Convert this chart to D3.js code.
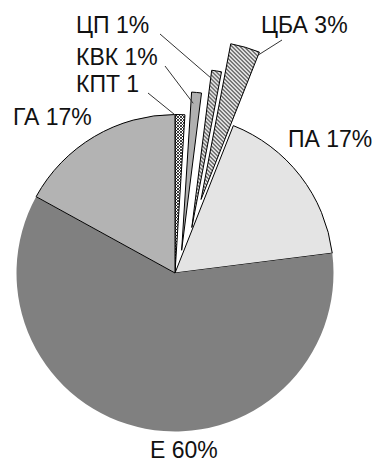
<!DOCTYPE html>
<html>
<head>
<meta charset="utf-8">
<script src="https://cdn.jsdelivr.net/npm/d3@7"></script>
<style>
  html, body { margin: 0; padding: 0; background: #fff; }
  svg { display: block; font-family: "Liberation Sans", Arial, sans-serif; }
</style>
</head>
<body>
<svg id="chart" width="377" height="462"></svg>
<script>
// Share of each category, percent, clockwise from 12 o'clock
const categories = ["КПТ", "КВК", "ЦП", "ЦБА", "ПА", "Е", "ГА"];
const shares     = [1, 1, 1, 3, 17, 60, 17];
const labelTexts = ["КПТ 1", "КВК 1%", "ЦП 1%", "ЦБА 3%", "ПА 17%", "Е 60%", "ГА 17%"];

// Appearance of each slice; pulled-out slices move `explode` px towards `dir` degrees
const sliceStyle = {
  "КПТ": { fill: "url(#cross)", stroke: "#000", explode: 0 },
  "КВК": { fill: "#b0b0b0",     stroke: "#000", explode: 23.7, dir: 16.3 },
  "ЦП":  { fill: "url(#diag)",  stroke: "#000", explode: 48.5, dir: 20.3 },
  "ЦБА": { fill: "url(#diag)",  stroke: "#000", explode: 78,   dir: 19.5 },
  "ПА":  { fill: "#e4e4e4",     stroke: "#000", explode: 0 },
  "Е":   { fill: "#808080",     stroke: "none", explode: 0 },
  "ГА":  { fill: "#b3b3b3",     stroke: "#000", explode: 0 }
};

// Label placement: text start and baseline, leader start, leader target on slice
const labelLayout = {
  "КПТ": { x: 76,  y: 92,  lx: 148, ly: 93, t: 0.15, k: 0.99 },
  "КВК": { x: 76,  y: 65,  lx: 165, ly: 66, t: 0.25, k: 0.93 },
  "ЦП":  { x: 76,  y: 33,  lx: 160, ly: 34, t: 0.05, k: 0.95 },
  "ЦБА": { x: 261, y: 33,  lx: 282, ly: 40, t: 1.0,  k: 0.98 },
  "ПА":  { x: 288, y: 147 },
  "Е":   { x: 150, y: 457.5 },
  "ГА":  { x: 13,  y: 125 }
};

const cx = 175, cy = 273, radius = 158.5;

const svg = d3.select("#chart");
const defs = svg.append("defs");

// Downward diagonal hatch
const diag = defs.append("pattern")
  .attr("id", "diag").attr("patternUnits", "userSpaceOnUse")
  .attr("width", 4).attr("height", 4);
diag.append("rect").attr("width", 4).attr("height", 4).attr("fill", "#fff");
diag.append("path")
  .attr("d", "M-1,-1 L5,5 M-1,3 L1,5 M3,-1 L5,1")
  .attr("stroke", "#222").attr("stroke-width", 1.1);

// Fine diagonal cross-hatch
const cross = defs.append("pattern")
  .attr("id", "cross").attr("patternUnits", "userSpaceOnUse")
  .attr("width", 3).attr("height", 3);
cross.append("rect").attr("width", 3).attr("height", 3).attr("fill", "#fff");
cross.append("path")
  .attr("d", "M0,0 L3,3 M3,0 L0,3")
  .attr("stroke", "#111").attr("stroke-width", 0.8);

const data = categories.map((c, i) => ({ category: c, value: shares[i], label: labelTexts[i] }));

const pie = d3.pie().sort(null).value(d => d.value).startAngle(0).endAngle(2 * Math.PI);
const arc = d3.arc().innerRadius(0).outerRadius(radius);
const arcs = pie(data);

const unit = a => [Math.sin(a), -Math.cos(a)];
const offsetOf = d => {
  const s = sliceStyle[d.data.category];
  if (!s.explode) return [0, 0];
  const u = unit(s.dir * Math.PI / 180);
  return [u[0] * s.explode, u[1] * s.explode];
};

const g = svg.append("g").attr("transform", `translate(${cx},${cy})`);

// Slices in place first, pulled-out slices on top
const ordered = arcs.slice().sort((a, b) =>
  sliceStyle[a.data.category].explode - sliceStyle[b.data.category].explode);

g.selectAll("path.slice")
  .data(ordered)
  .join("path")
  .attr("class", "slice")
  .attr("transform", d => { const o = offsetOf(d); return `translate(${o[0]},${o[1]})`; })
  .attr("d", arc)
  .attr("fill", d => sliceStyle[d.data.category].fill)
  .attr("stroke", d => sliceStyle[d.data.category].stroke)
  .attr("stroke-width", 1)
  .attr("stroke-linejoin", "round");

// Leader lines from labels to the small slices
const leaderEnd = d => {
  const L = labelLayout[d.data.category], o = offsetOf(d);
  const a = d.startAngle + L.t * (d.endAngle - d.startAngle);
  const u = unit(a);
  return [cx + o[0] + u[0] * radius * L.k, cy + o[1] + u[1] * radius * L.k];
};
const leaders = arcs.filter(d => labelLayout[d.data.category].lx !== undefined);
svg.append("g").selectAll("line")
  .data(leaders)
  .join("line")
  .attr("x1", d => labelLayout[d.data.category].lx)
  .attr("y1", d => labelLayout[d.data.category].ly)
  .attr("x2", d => leaderEnd(d)[0])
  .attr("y2", d => leaderEnd(d)[1])
  .attr("stroke", "#333")
  .attr("stroke-width", 1);

// Category labels
svg.append("g").selectAll("text")
  .data(arcs)
  .join("text")
  .attr("x", d => labelLayout[d.data.category].x)
  .attr("y", d => labelLayout[d.data.category].y)
  .attr("font-size", 23)
  .attr("fill", "#111")
  .text(d => d.data.label);
</script>
</body>
</html>
